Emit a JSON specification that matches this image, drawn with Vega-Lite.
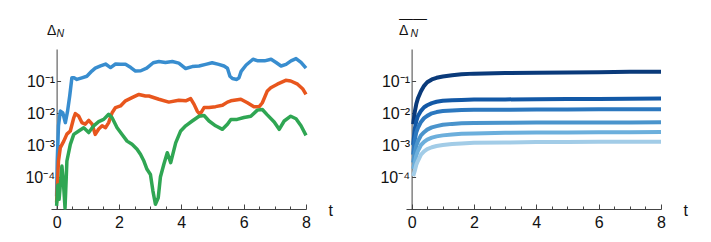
{
"$schema": "https://vega.github.io/schema/vega-lite/v6.json",
"background": "white",
"padding": {"left": 24, "top": 11, "right": 5, "bottom": 5},
"bounds": "flush",
"spacing": 100,
"resolve": {"scale": {"color": "independent"}},
"config": {"view": {"stroke": null}, "font": "Liberation Sans",
  "axis": {"grid": false, "domainColor": "#444", "tickColor": "#444", "labelColor": "#111", "labelFont": "Liberation Sans", "labelFontSize": 16, "titleFont": "Liberation Sans", "titleFontWeight": "normal", "titleColor": "#111"}},
"datasets": {
"left": [
{"s":"blue","t":0,"v":2.5e-5},{"s":"blue","t":0.02,"v":3.16e-4},{"s":"blue","t":0.06,"v":0.00398},{"s":"blue","t":0.12,"v":0.0115},{"s":"blue","t":0.2,"v":0.01},{"s":"blue","t":0.28,"v":0.005},{"s":"blue","t":0.35,"v":0.0112},{"s":"blue","t":0.42,"v":0.0339},{"s":"blue","t":0.49,"v":0.126},{"s":"blue","t":0.56,"v":0.126},{"s":"blue","t":0.65,"v":0.112},{"s":"blue","t":0.81,"v":0.126},{"s":"blue","t":0.97,"v":0.141},{"s":"blue","t":1.13,"v":0.204},{"s":"blue","t":1.24,"v":0.251},{"s":"blue","t":1.41,"v":0.295},{"s":"blue","t":1.57,"v":0.339},{"s":"blue","t":1.73,"v":0.263},{"s":"blue","t":1.89,"v":0.339},{"s":"blue","t":2.05,"v":0.331},{"s":"blue","t":2.21,"v":0.331},{"s":"blue","t":2.38,"v":0.263},{"s":"blue","t":2.53,"v":0.204},{"s":"blue","t":2.7,"v":0.209},{"s":"blue","t":2.89,"v":0.251},{"s":"blue","t":3.1,"v":0.372},{"s":"blue","t":3.28,"v":0.407},{"s":"blue","t":3.49,"v":0.38},{"s":"blue","t":3.71,"v":0.407},{"s":"blue","t":3.92,"v":0.363},{"s":"blue","t":4.14,"v":0.245},{"s":"blue","t":4.35,"v":0.282},{"s":"blue","t":4.57,"v":0.295},{"s":"blue","t":4.78,"v":0.331},{"s":"blue","t":4.99,"v":0.372},{"s":"blue","t":5.2,"v":0.331},{"s":"blue","t":5.37,"v":0.295},{"s":"blue","t":5.48,"v":0.251},{"s":"blue","t":5.56,"v":0.141},{"s":"blue","t":5.64,"v":0.12},{"s":"blue","t":5.78,"v":0.112},{"s":"blue","t":5.85,"v":0.126},{"s":"blue","t":5.92,"v":0.2},{"s":"blue","t":6.08,"v":0.316},{"s":"blue","t":6.3,"v":0.479},{"s":"blue","t":6.46,"v":0.427},{"s":"blue","t":6.67,"v":0.427},{"s":"blue","t":6.88,"v":0.479},{"s":"blue","t":7.04,"v":0.38},{"s":"blue","t":7.2,"v":0.295},{"s":"blue","t":7.36,"v":0.331},{"s":"blue","t":7.52,"v":0.427},{"s":"blue","t":7.68,"v":0.501},{"s":"blue","t":7.84,"v":0.38},{"s":"blue","t":8,"v":0.251},
{"s":"orange","t":0,"v":1.58e-5},{"s":"orange","t":0.06,"v":3.16e-4},{"s":"orange","t":0.12,"v":8.3e-4},{"s":"orange","t":0.23,"v":0.00132},{"s":"orange","t":0.33,"v":0.00219},{"s":"orange","t":0.44,"v":0.00275},{"s":"orange","t":0.55,"v":0.00708},{"s":"orange","t":0.6,"v":0.00955},{"s":"orange","t":0.71,"v":0.00794},{"s":"orange","t":0.81,"v":0.00501},{"s":"orange","t":0.92,"v":0.00447},{"s":"orange","t":1.03,"v":0.00589},{"s":"orange","t":1.14,"v":0.00447},{"s":"orange","t":1.24,"v":0.00214},{"s":"orange","t":1.35,"v":0.00316},{"s":"orange","t":1.46,"v":0.00398},{"s":"orange","t":1.57,"v":0.00347},{"s":"orange","t":1.67,"v":0.00501},{"s":"orange","t":1.78,"v":0.0102},{"s":"orange","t":1.89,"v":0.0148},{"s":"orange","t":2.05,"v":0.0166},{"s":"orange","t":2.21,"v":0.024},{"s":"orange","t":2.42,"v":0.0302},{"s":"orange","t":2.64,"v":0.038},{"s":"orange","t":2.85,"v":0.0339},{"s":"orange","t":2.96,"v":0.0339},{"s":"orange","t":3.28,"v":0.0269},{"s":"orange","t":3.6,"v":0.0219},{"s":"orange","t":3.92,"v":0.0251},{"s":"orange","t":4.14,"v":0.024},{"s":"orange","t":4.3,"v":0.0282},{"s":"orange","t":4.41,"v":0.0186},{"s":"orange","t":4.51,"v":0.0115},{"s":"orange","t":4.6,"v":0.00912},{"s":"orange","t":4.73,"v":0.0148},{"s":"orange","t":4.89,"v":0.0148},{"s":"orange","t":5.1,"v":0.0158},{"s":"orange","t":5.32,"v":0.0174},{"s":"orange","t":5.48,"v":0.0219},{"s":"orange","t":5.59,"v":0.024},{"s":"orange","t":5.91,"v":0.0269},{"s":"orange","t":6.12,"v":0.0209},{"s":"orange","t":6.33,"v":0.0158},{"s":"orange","t":6.5,"v":0.0158},{"s":"orange","t":6.6,"v":0.0209},{"s":"orange","t":6.76,"v":0.049},{"s":"orange","t":6.87,"v":0.0617},{"s":"orange","t":7.08,"v":0.0794},{"s":"orange","t":7.35,"v":0.105},{"s":"orange","t":7.51,"v":0.1},{"s":"orange","t":7.73,"v":0.0794},{"s":"orange","t":7.89,"v":0.0575},{"s":"orange","t":8,"v":0.038},
{"s":"green","t":0,"v":1.26e-5},{"s":"green","t":0.04,"v":5.62e-5},{"s":"green","t":0.08,"v":2.0e-5},{"s":"green","t":0.17,"v":2.19e-4},{"s":"green","t":0.22,"v":6.31e-5},{"s":"green","t":0.27,"v":1.07e-5},{"s":"green","t":0.33,"v":3.16e-4},{"s":"green","t":0.44,"v":0.00105},{"s":"green","t":0.55,"v":0.00214},{"s":"green","t":0.71,"v":0.00275},{"s":"green","t":0.87,"v":0.00347},{"s":"green","t":1.03,"v":0.00245},{"s":"green","t":1.19,"v":0.00398},{"s":"green","t":1.35,"v":0.00537},{"s":"green","t":1.51,"v":0.00631},{"s":"green","t":1.67,"v":0.00912},{"s":"green","t":1.78,"v":0.00708},{"s":"green","t":1.94,"v":0.00347},{"s":"green","t":2.1,"v":0.00214},{"s":"green","t":2.26,"v":0.00132},{"s":"green","t":2.42,"v":0.00105},{"s":"green","t":2.58,"v":7.41e-4},{"s":"green","t":2.69,"v":5.13e-4},{"s":"green","t":2.8,"v":3.16e-4},{"s":"green","t":2.9,"v":1.74e-4},{"s":"green","t":3.01,"v":1.2e-4},{"s":"green","t":3.09,"v":3.63e-5},{"s":"green","t":3.17,"v":1.41e-5},{"s":"green","t":3.26,"v":2.24e-5},{"s":"green","t":3.33,"v":1e-4},{"s":"green","t":3.44,"v":2.51e-4},{"s":"green","t":3.55,"v":5.75e-4},{"s":"green","t":3.66,"v":2.82e-4},{"s":"green","t":3.82,"v":0.00117},{"s":"green","t":3.98,"v":0.00275},{"s":"green","t":4.14,"v":0.00398},{"s":"green","t":4.35,"v":0.00562},{"s":"green","t":4.57,"v":0.00794},{"s":"green","t":4.73,"v":0.00832},{"s":"green","t":4.89,"v":0.00562},{"s":"green","t":5.1,"v":0.00398},{"s":"green","t":5.32,"v":0.00309},{"s":"green","t":5.48,"v":0.00447},{"s":"green","t":5.59,"v":0.00631},{"s":"green","t":5.79,"v":0.00631},{"s":"green","t":6.01,"v":0.00724},{"s":"green","t":6.23,"v":0.00794},{"s":"green","t":6.44,"v":0.0123},{"s":"green","t":6.6,"v":0.0129},{"s":"green","t":6.75,"v":0.00891},{"s":"green","t":6.98,"v":0.00525},{"s":"green","t":7.14,"v":0.00309},{"s":"green","t":7.3,"v":0.00562},{"s":"green","t":7.51,"v":0.00794},{"s":"green","t":7.68,"v":0.00661},{"s":"green","t":7.84,"v":0.00398},{"s":"green","t":8,"v":0.002}
],
"right": [
{"c":"c1","t":0.05,"v":0.00447},{"c":"c1","t":0.1,"v":0.0107},{"c":"c1","t":0.15,"v":0.0191},{"c":"c1","t":0.2,"v":0.0282},{"c":"c1","t":0.3,"v":0.0479},{"c":"c1","t":0.4,"v":0.0708},{"c":"c1","t":0.5,"v":0.0912},{"c":"c1","t":0.65,"v":0.112},{"c":"c1","t":0.8,"v":0.126},{"c":"c1","t":1,"v":0.138},{"c":"c1","t":1.3,"v":0.151},{"c":"c1","t":1.6,"v":0.162},{"c":"c1","t":2,"v":0.17},{"c":"c1","t":3,"v":0.178},{"c":"c1","t":4,"v":0.182},{"c":"c1","t":5,"v":0.186},{"c":"c1","t":6,"v":0.188},{"c":"c1","t":7,"v":0.193},{"c":"c1","t":8,"v":0.195},
{"c":"c2","t":0.05,"v":0.001},{"c":"c2","t":0.1,"v":0.00316},{"c":"c2","t":0.15,"v":0.00562},{"c":"c2","t":0.2,"v":0.00794},{"c":"c2","t":0.3,"v":0.0117},{"c":"c2","t":0.4,"v":0.0151},{"c":"c2","t":0.5,"v":0.0174},{"c":"c2","t":0.65,"v":0.0204},{"c":"c2","t":0.8,"v":0.0224},{"c":"c2","t":1,"v":0.024},{"c":"c2","t":1.3,"v":0.0251},{"c":"c2","t":1.6,"v":0.0257},{"c":"c2","t":2,"v":0.0263},{"c":"c2","t":3,"v":0.0266},{"c":"c2","t":4,"v":0.0269},{"c":"c2","t":5,"v":0.0272},{"c":"c2","t":6,"v":0.0275},{"c":"c2","t":7,"v":0.0279},{"c":"c2","t":8,"v":0.0282},
{"c":"c3","t":0.05,"v":5.01e-4},{"c":"c3","t":0.1,"v":0.00141},{"c":"c3","t":0.15,"v":0.00251},{"c":"c3","t":0.2,"v":0.00339},{"c":"c3","t":0.3,"v":0.00525},{"c":"c3","t":0.4,"v":0.00692},{"c":"c3","t":0.5,"v":0.00813},{"c":"c3","t":0.65,"v":0.00977},{"c":"c3","t":0.8,"v":0.0107},{"c":"c3","t":1,"v":0.0115},{"c":"c3","t":1.3,"v":0.012},{"c":"c3","t":1.6,"v":0.0124},{"c":"c3","t":2,"v":0.0126},{"c":"c3","t":3,"v":0.0127},{"c":"c3","t":4,"v":0.0129},{"c":"c3","t":5,"v":0.0129},{"c":"c3","t":6,"v":0.013},{"c":"c3","t":7,"v":0.013},{"c":"c3","t":8,"v":0.0132},
{"c":"c4","t":0.05,"v":2.82e-4},{"c":"c4","t":0.1,"v":5.62e-4},{"c":"c4","t":0.15,"v":9.55e-4},{"c":"c4","t":0.2,"v":0.00129},{"c":"c4","t":0.3,"v":0.002},{"c":"c4","t":0.4,"v":0.00251},{"c":"c4","t":0.5,"v":0.00302},{"c":"c4","t":0.65,"v":0.00355},{"c":"c4","t":0.8,"v":0.00389},{"c":"c4","t":1,"v":0.00427},{"c":"c4","t":1.3,"v":0.00457},{"c":"c4","t":1.6,"v":0.00479},{"c":"c4","t":2,"v":0.0049},{"c":"c4","t":3,"v":0.00495},{"c":"c4","t":4,"v":0.00501},{"c":"c4","t":5,"v":0.00501},{"c":"c4","t":6,"v":0.00501},{"c":"c4","t":7,"v":0.00507},{"c":"c4","t":8,"v":0.00513},
{"c":"c5","t":0.05,"v":1.78e-4},{"c":"c5","t":0.1,"v":2.82e-4},{"c":"c5","t":0.15,"v":4.68e-4},{"c":"c5","t":0.2,"v":6.46e-4},{"c":"c5","t":0.3,"v":0.001},{"c":"c5","t":0.4,"v":0.00126},{"c":"c5","t":0.5,"v":0.00148},{"c":"c5","t":0.65,"v":0.0017},{"c":"c5","t":0.8,"v":0.00186},{"c":"c5","t":1,"v":0.002},{"c":"c5","t":1.3,"v":0.00214},{"c":"c5","t":1.6,"v":0.00224},{"c":"c5","t":2,"v":0.00229},{"c":"c5","t":3,"v":0.0024},{"c":"c5","t":4,"v":0.00245},{"c":"c5","t":5,"v":0.00245},{"c":"c5","t":6,"v":0.00251},{"c":"c5","t":7,"v":0.00251},{"c":"c5","t":8,"v":0.00257},
{"c":"c6","t":0.05,"v":1.07e-4},{"c":"c6","t":0.1,"v":1.55e-4},{"c":"c6","t":0.15,"v":2.4e-4},{"c":"c6","t":0.2,"v":3.16e-4},{"c":"c6","t":0.3,"v":5.01e-4},{"c":"c6","t":0.4,"v":6.31e-4},{"c":"c6","t":0.5,"v":7.41e-4},{"c":"c6","t":0.65,"v":8.51e-4},{"c":"c6","t":0.8,"v":9.33e-4},{"c":"c6","t":1,"v":0.001},{"c":"c6","t":1.3,"v":0.00107},{"c":"c6","t":1.6,"v":0.00112},{"c":"c6","t":2,"v":0.00117},{"c":"c6","t":3,"v":0.0012},{"c":"c6","t":4,"v":0.00123},{"c":"c6","t":5,"v":0.00123},{"c":"c6","t":6,"v":0.00126},{"c":"c6","t":7,"v":0.00126},{"c":"c6","t":8,"v":0.00126}
]
},
"hconcat": [
{
 "width": 255, "height": 160,
 "data": {"name": "left"},
 "layer": [
  {"mark": {"type": "line", "strokeWidth": 3.5, "strokeJoin": "round"},
   "encoding": {
    "x": {"field": "t", "type": "quantitative", "scale": {"domain": [-0.18, 8], "nice": false, "zero": false},
      "axis": {"values": [0,0.5,1,1.5,2,2.5,3,3.5,4,4.5,5,5.5,6,6.5,7,7.5,8], "labelExpr": "datum.value % 2 === 0 ? '' + datum.value : ''",
        "tickSize": {"condition": {"test": "datum.value % 2 === 0", "value": -5}, "value": -3},
        "labelPadding": 10, "labelFlush": false, "labelFontSize": 16,
        "title": "t", "titleFontSize": 16, "titleAngle": 0, "titleX": 277, "titleY": 6, "titleAlign": "left", "titleBaseline": "alphabetic"}},
    "y": {"field": "v", "type": "quantitative", "scale": {"type": "log", "domain": [1e-5, 1], "nice": false},
      "axis": {"values": [0.0001, 0.001, 0.01, 0.1], "offset": -5.6, "tickSize": -4, "labelPadding": 6, "labelFontSize": 16,
        "labelExpr": "datum.value < 0.0005 ? '10⁻⁴' : datum.value < 0.005 ? '10⁻³' : datum.value < 0.05 ? '10⁻²' : '10⁻¹'",
        "title": "Δ", "titleFontSize": 14, "titleAngle": 0, "titleX": -10, "titleY": -15, "titleAlign": "left", "titleBaseline": "alphabetic"}},
    "color": {"field": "s", "type": "nominal", "scale": {"domain": ["blue", "orange", "green"], "range": ["#388dcf", "#e8561d", "#2fa653"]}, "legend": null}
   }},
  {"mark": {"type": "point", "opacity": 0},
   "encoding": {
    "x": {"field": "t", "type": "quantitative", "scale": {"domain": [-0.18, 8], "nice": false, "zero": false},
      "axis": {"orient": "top", "domain": false, "ticks": false, "labels": false, "title": "N", "titleFontSize": 10.5, "titleFontStyle": "italic", "titleAngle": 0, "titleX": 5, "titleY": -13, "titleAlign": "left", "titleBaseline": "alphabetic"}}
   }}
 ],
 "resolve": {"axis": {"x": "independent"}}
},
{
 "width": 255, "height": 160,
 "data": {"name": "right"},
 "layer": [
  {"mark": {"type": "line", "strokeWidth": 4, "strokeJoin": "round"},
   "encoding": {
    "x": {"field": "t", "type": "quantitative", "scale": {"domain": [-0.18, 8], "nice": false, "zero": false},
      "axis": {"values": [0,0.5,1,1.5,2,2.5,3,3.5,4,4.5,5,5.5,6,6.5,7,7.5,8], "labelExpr": "datum.value % 2 === 0 ? '' + datum.value : ''",
        "tickSize": {"condition": {"test": "datum.value % 2 === 0", "value": -5}, "value": -3},
        "labelPadding": 10, "labelFlush": false, "labelFontSize": 16,
        "title": "t", "titleFontSize": 16, "titleAngle": 0, "titleX": 277, "titleY": 6, "titleAlign": "left", "titleBaseline": "alphabetic"}},
    "y": {"field": "v", "type": "quantitative", "scale": {"type": "log", "domain": [1e-5, 1], "nice": false},
      "axis": {"values": [0.0001, 0.001, 0.01, 0.1], "offset": -5.6, "tickSize": -4, "labelPadding": 6, "labelFontSize": 16,
        "labelExpr": "datum.value < 0.0005 ? '10⁻⁴' : datum.value < 0.005 ? '10⁻³' : datum.value < 0.05 ? '10⁻²' : '10⁻¹'",
        "title": ["——", "Δ"], "titleFontSize": 14, "titleLineHeight": 12, "titleAngle": 0, "titleX": -13, "titleY": -27, "titleAlign": "left", "titleBaseline": "alphabetic"}},
    "color": {"field": "c", "type": "nominal", "scale": {"domain": ["c1", "c2", "c3", "c4", "c5", "c6"], "range": ["#0a3a7a", "#1258a6", "#2c78bf", "#4a94cc", "#6cafdc", "#a2cce7"]}, "legend": null}
   }},
  {"mark": {"type": "point", "opacity": 0},
   "encoding": {
    "x": {"field": "t", "type": "quantitative", "scale": {"domain": [-0.18, 8], "nice": false, "zero": false},
      "axis": {"orient": "top", "domain": false, "ticks": false, "labels": false, "title": "N", "titleFontSize": 10.5, "titleFontStyle": "italic", "titleAngle": 0, "titleX": 4, "titleY": -13, "titleAlign": "left", "titleBaseline": "alphabetic"}}
   }}
 ],
 "resolve": {"axis": {"x": "independent"}}
}
]
}
